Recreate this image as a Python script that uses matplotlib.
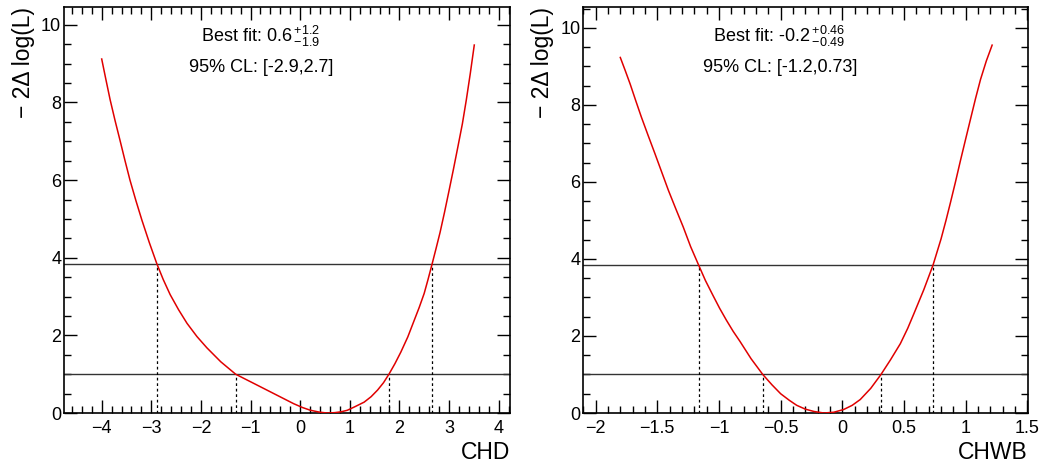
import matplotlib
matplotlib.use('Agg')
import matplotlib.pyplot as plt
from matplotlib.ticker import MultipleLocator, FuncFormatter

plt.rcParams['font.family'] = ['Liberation Sans', 'DejaVu Sans']
plt.rcParams['mathtext.fontset'] = 'custom'
plt.rcParams['mathtext.rm'] = 'Liberation Sans'
plt.rcParams['mathtext.it'] = 'Liberation Sans:italic'
plt.rcParams['mathtext.bf'] = 'Liberation Sans:bold'

# likelihood scan for CHD
chd_x = [-4.00, -3.92, -3.83, -3.73, -3.63, -3.53, -3.43, -3.31, -3.19, -3.04,
         -2.89, -2.76, -2.62, -2.45, -2.28, -2.08, -1.88, -1.60, -1.30, -1.10,
         -0.93, -0.73, -0.53, -0.33, -0.13, 0.05, 0.21, 0.40, 0.55, 0.70,
         0.82, 0.95, 1.10, 1.29, 1.43, 1.56, 1.68, 1.79, 1.91, 2.03,
         2.17, 2.30, 2.40, 2.50, 2.58, 2.66, 2.74, 2.82, 2.91, 3.00,
         3.09, 3.18, 3.27, 3.35, 3.43, 3.51]
chd_nll = [9.12, 8.62, 8.07, 7.53, 7.02, 6.50, 6.00, 5.47, 4.97, 4.39,
           3.85, 3.44, 3.05, 2.66, 2.31, 1.97, 1.68, 1.32, 1.00, 0.87,
           0.76, 0.63, 0.50, 0.37, 0.24, 0.14, 0.07, 0.02, 0.00, 0.01,
           0.03, 0.07, 0.16, 0.28, 0.42, 0.59, 0.78, 1.00, 1.27, 1.57,
           1.96, 2.39, 2.72, 3.08, 3.45, 3.84, 4.24, 4.65, 5.17, 5.72,
           6.28, 6.86, 7.45, 8.07, 8.75, 9.48]
chd_cross = [-2.89, -1.30, 1.79, 2.66]

# likelihood scan for CHWB
chwb_x = [-1.80, -1.76, -1.72, -1.675, -1.63, -1.575, -1.52, -1.465, -1.41, -1.35,
          -1.29, -1.23, -1.165, -1.11, -1.05, -0.995, -0.94, -0.885, -0.83, -0.74,
          -0.645, -0.57, -0.50, -0.43, -0.37, -0.30, -0.23, -0.15, -0.07, 0.01,
          0.08, 0.145, 0.23, 0.313, 0.39, 0.47, 0.53, 0.58, 0.66, 0.735,
          0.80, 0.84, 0.876, 0.917, 0.957, 1.00, 1.038, 1.08, 1.12, 1.167, 1.214]
chwb_nll = [9.23, 8.89, 8.54, 8.11, 7.69, 7.21, 6.74, 6.26, 5.78, 5.30,
            4.83, 4.32, 3.84, 3.44, 3.06, 2.72, 2.41, 2.12, 1.86, 1.41,
            1.00, 0.73, 0.50, 0.33, 0.20, 0.10, 0.04, 0.00, 0.02, 0.09,
            0.20, 0.35, 0.64, 1.00, 1.38, 1.80, 2.20, 2.58, 3.20, 3.84,
            4.52, 5.00, 5.46, 6.00, 6.55, 7.12, 7.62, 8.17, 8.66, 9.14, 9.55]
chwb_cross = [-1.165, -0.645, 0.313, 0.735]

cross_levels = [3.84, 1.0, 1.0, 3.84]
levels = [1.0, 3.84]


def fmt(v, pos):
    return ('%g' % v).replace('-', '\u2212')


def draw_scan(ax, x, y, cross, name, best, cl, xlim, ylim, major, minor):
    ax.plot(x, y, color='#e00000', lw=1.1, zorder=3)
    for lev in levels:
        ax.axhline(lev, color='#333333', lw=1.0, zorder=2)
    ax.vlines(cross, 0, cross_levels, colors='black', lw=0.9,
              linestyles=(0, (2.2, 2.2)), zorder=2)
    ax.set_xlim(xlim)
    ax.set_ylim(ylim)
    ax.xaxis.set_major_locator(MultipleLocator(major))
    ax.xaxis.set_minor_locator(MultipleLocator(minor))
    ax.yaxis.set_major_locator(MultipleLocator(2))
    ax.yaxis.set_minor_locator(MultipleLocator(0.5))
    ax.xaxis.set_major_formatter(FuncFormatter(fmt))
    ax.yaxis.set_major_formatter(FuncFormatter(fmt))
    ax.tick_params(which='both', direction='in', top=True, right=True,
                   width=1.0, labelsize=13)
    ax.tick_params(which='major', length=9.5)
    ax.tick_params(which='minor', length=5)
    ax.tick_params(axis='x', pad=5)
    ax.tick_params(axis='y', pad=2)
    for s in ax.spines.values():
        s.set_linewidth(1.2)
    ax.set_xlabel(name, fontsize=16.5, loc='right')
    ax.xaxis.set_label_coords(1.0, -0.07)
    ax.set_ylabel('\u2212 2\u0394 log(L)', fontsize=16.5, loc='top')
    ax.yaxis.set_label_coords(-0.065, 1.0)
    ax.text(0.44, 0.928, best, transform=ax.transAxes, fontsize=13,
            ha='center', va='center')
    ax.text(0.442, 0.85, cl, transform=ax.transAxes, fontsize=13,
            ha='center', va='center')


fig = plt.figure(figsize=(10.44, 4.66), dpi=100)
ax1 = fig.add_axes([0.0613, 0.1137, 0.4272, 0.8713])
ax2 = fig.add_axes([0.5587, 0.1137, 0.426, 0.8713])

draw_scan(ax1, chd_x, chd_nll, chd_cross, 'CHD',
          r'Best fit: $\mathregular{0.6\,{}^{+1.2}_{-1.9}}$',
          '95% CL: [-2.9,2.7]', (-4.76, 4.23), (0, 10.46), 1, 0.2)
draw_scan(ax2, chwb_x, chwb_nll, chwb_cross, 'CHWB',
          r'Best fit: -0.2$\mathregular{\,{}^{+0.46}_{-0.49}}$',
          '95% CL: [-1.2,0.73]', (-2.10, 1.505), (0, 10.54), 0.5, 0.1)

fig.savefig('out.png', dpi=100)
